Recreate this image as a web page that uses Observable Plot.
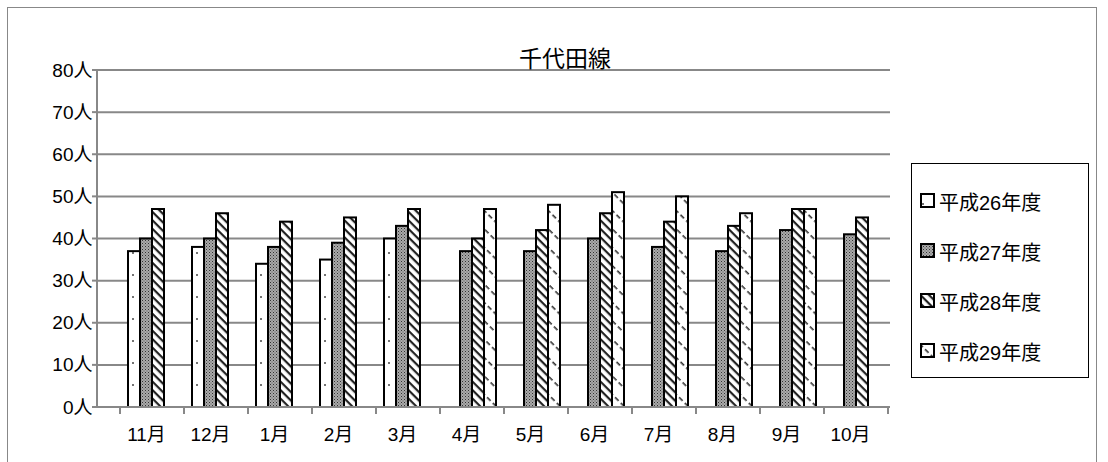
<!DOCTYPE html>
<html><head><meta charset="utf-8">
<script src="https://cdn.jsdelivr.net/npm/d3@7"></script>
<script src="https://cdn.jsdelivr.net/npm/@observablehq/plot@0.6"></script>
<style>
body{margin:0;background:#fff;font-family:"Liberation Sans","Noto Sans CJK JP",sans-serif;}
#wrap{position:relative;width:1108px;height:462px;}
#border{position:absolute;left:7px;top:7px;width:1090px;height:470px;border:1px solid #888;box-sizing:border-box;}
#title{position:absolute;left:0;width:1130px;top:40px;text-align:center;font-size:23px;}
#legend{position:absolute;left:911px;top:163px;width:178px;height:215px;border:1px solid #000;box-sizing:border-box;padding:12px 0 0 8px;font-size:20px;}
#legend div{display:flex;align-items:center;height:50px;}
#legend svg{margin-right:3px}
</style></head><body>
<svg width="0" height="0" style="position:absolute">
<defs>
<pattern id="p26" patternUnits="userSpaceOnUse" width="12" height="22"><rect width="12" height="22" fill="#fff"/><circle cx="3" cy="11" r="1" fill="#444"/></pattern>
<pattern id="p27" patternUnits="userSpaceOnUse" width="3" height="3"><rect width="3" height="3" fill="#aaa"/><rect width="1" height="1" fill="#333"/><rect x="1.5" y="1.5" width="1" height="1" fill="#555"/></pattern>
<pattern id="p28" patternUnits="userSpaceOnUse" width="6" height="6" patternTransform="rotate(45)"><rect width="6" height="6" fill="#fff"/><rect width="6" height="2.2" fill="#222"/></pattern>
<pattern id="p29" patternUnits="userSpaceOnUse" width="8" height="13" patternTransform="rotate(45)"><rect width="8" height="13" fill="#fff"/><rect width="5" height="1.6" fill="#333"/></pattern>
</defs></svg>
<div id="wrap"><div id="border"></div><div id="title">千代田線</div><div id="chart"></div>
<div id="legend"></div></div>
<script>
const months=["11月","12月","1月","2月","3月","4月","5月","6月","7月","8月","9月","10月"];
const seriesNames=["平成26年度","平成27年度","平成28年度","平成29年度"];
const h26=[37,38,34,35,40,null,null,null,null,null,null,null];
const h27=[40,40,38,39,43,37,37,40,38,37,42,41];
const h28=[47,46,44,45,47,40,42,46,44,43,47,45];
const h29=[null,null,null,null,null,47,48,51,50,46,47,null];
const yTicks=[0,10,20,30,40,50,60,70,80];
const all=[h26,h27,h28,h29];
const fills=["url(#p26)","url(#p27)","url(#p28)","url(#p29)"];
const data=[];
all.forEach((arr,si)=>arr.forEach((v,mi)=>{if(v!=null)data.push({m:months[mi],s:seriesNames[si],v});}));
const bars=seriesNames.map((s,i)=>Plot.barY(data.filter(d=>d.s===s),{fx:"m",x:"s",y:"v",fill:fills[i],stroke:"#000",strokeWidth:2}));
const chart=Plot.plot({
 width:1108,height:462,marginLeft:118,marginTop:70,marginBottom:55,marginRight:218,
 style:{fontFamily:"Liberation Sans, Noto Sans CJK JP, sans-serif",fontSize:"17px",overflow:"visible"},
 fx:{domain:months,paddingInner:0.25,paddingOuter:0.125,label:null,axis:null},
 x:{domain:seriesNames,padding:0,axis:null},
 y:{domain:[0,80],axis:null},
 marks:[
  Plot.axisY({ticks:yTicks,tickFormat:d=>d+"人",tickSize:0,tickPadding:36,fontSize:19,anchor:"left",label:null}),
  ...bars,
  Plot.axisFx({domain:months,anchor:"bottom",tickSize:0,tickPadding:20,fontSize:19,label:null,dx:-6})
 ]
});
document.getElementById("chart").appendChild(chart);
const svg=d3.select(chart);
const ys=chart.scale("y");
const fxs=chart.scale("fx");
const x0=97,x1=1108-218;
const grid=svg.insert("g",":first-child");
grid.selectAll("line").data(yTicks.slice(1)).join("line")
 .attr("x1",x0).attr("x2",x1).attr("y1",d=>ys.apply(d)).attr("y2",d=>ys.apply(d)).attr("stroke","#888").attr("stroke-width",2);
const ax=svg.append("g").attr("stroke","#888").attr("stroke-width",2);
ax.append("line").attr("x1",x0).attr("x2",x0).attr("y1",ys.apply(80)).attr("y2",ys.apply(0));
ax.append("line").attr("x1",x0).attr("x2",x1).attr("y1",ys.apply(0)).attr("y2",ys.apply(0));
ax.selectAll("line.yt").data(yTicks).join("line").attr("class","yt")
 .attr("x1",x0-5).attr("x2",x0).attr("y1",d=>ys.apply(d)).attr("y2",d=>ys.apply(d));
const bw=fxs.bandwidth, step=fxs.step;
const xs=months.map(m=>fxs.apply(m)-(step-bw)/2);
xs.push(fxs.apply(months[11])+bw+(step-bw)/2);
ax.selectAll("line.t").data(xs).join("line").attr("class","t")
 .attr("x1",d=>d).attr("x2",d=>d).attr("y1",ys.apply(0)).attr("y2",ys.apply(0)+7);
const lg=document.getElementById("legend");
seriesNames.forEach((s,i)=>{const d=document.createElement("div");
 d.innerHTML=`<svg width="16" height="16"><rect x="1" y="1" width="13" height="13" fill="${fills[i]}" stroke="#000" stroke-width="2"/></svg>${s}`;lg.appendChild(d);});
</script></body></html>
